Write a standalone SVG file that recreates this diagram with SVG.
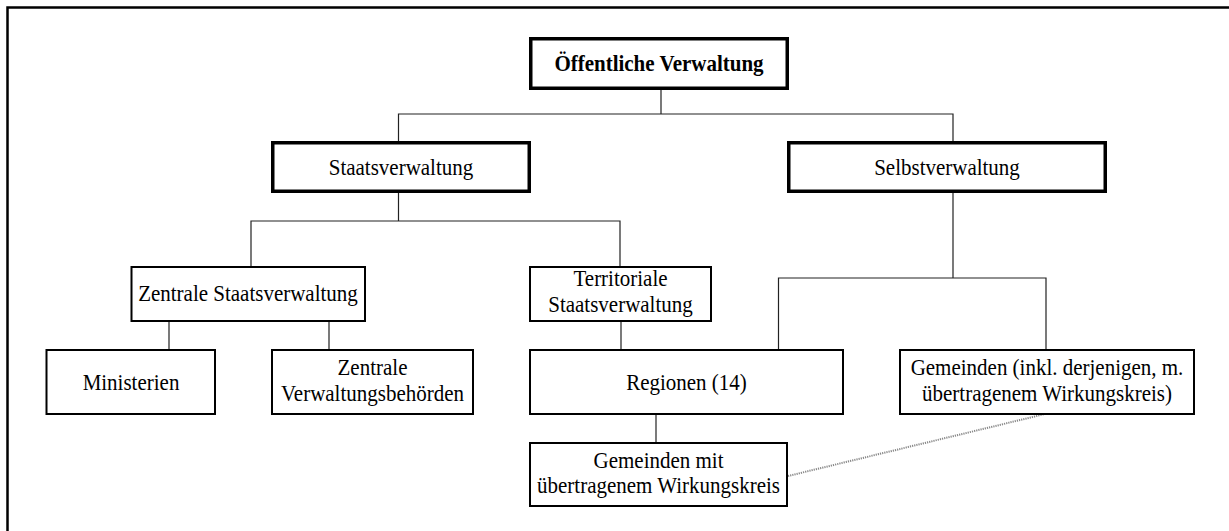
<svg xmlns="http://www.w3.org/2000/svg" width="1229" height="531" viewBox="0 0 1229 531">
<style>
text{font-family:"Liberation Serif","Times New Roman",serif;font-size:24px;fill:#000;text-anchor:middle}
.b{font-weight:bold}
.thick{fill:#fff;stroke:#000;stroke-width:3.5}
.thin{fill:#fff;stroke:#000;stroke-width:2}
.conn{fill:none;stroke:#222;stroke-width:1.2}
.dot{fill:none;stroke:#888;stroke-width:2;stroke-dasharray:1.2 1}
</style>
<rect x="0" y="0" width="1229" height="531" fill="#fff"/>
<rect id="frame" x="7.5" y="7.5" width="1240" height="600" fill="none" stroke="#000" stroke-width="2.5"/>
<g id="connectors">
<path class="conn" d="M661 90V114M398.5 141V114H953V141"/>
<path class="conn" d="M398.5 193V221M251 266V221H620V266"/>
<path class="conn" d="M953 193V278M778.5 349V278H1046V349"/>
<path class="conn" d="M169 322V349M329 322V349"/>
<path class="conn" d="M621 322V349"/>
<path class="conn" d="M656 415V442"/>
<path class="dot" d="M788 476L1045 414"/>
</g>
<g id="n-oeffentlich"><rect class="thick" x="530.75" y="38.75" width="256.5" height="49.5"/><text class="b" transform="translate(659 71) scale(0.875 1)">Öffentliche Verwaltung</text></g>
<g id="n-staat"><rect class="thick" x="272.75" y="142.75" width="256.5" height="48.5"/><text transform="translate(401 175) scale(0.875 1)">Staatsverwaltung</text></g>
<g id="n-selbst"><rect class="thick" x="788.75" y="142.75" width="316.5" height="48.5"/><text transform="translate(947 175) scale(0.875 1)">Selbstverwaltung</text></g>
<g id="n-zentral"><rect class="thin" x="131.5" y="267" width="233.5" height="54"/><text transform="translate(248 301) scale(0.875 1)">Zentrale Staatsverwaltung</text></g>
<g id="n-territorial"><rect class="thin" x="530" y="267" width="181" height="54"/><text transform="translate(620.5 286) scale(0.875 1)">Territoriale</text><text transform="translate(620.5 312) scale(0.875 1)">Staatsverwaltung</text></g>
<g id="n-ministerien"><rect class="thin" x="46.5" y="350" width="168.5" height="64"/><text transform="translate(131 389.5) scale(0.875 1)">Ministerien</text></g>
<g id="n-zvb"><rect class="thin" x="272" y="350" width="201" height="64"/><text transform="translate(372.5 375) scale(0.875 1)">Zentrale</text><text transform="translate(372.5 401) scale(0.875 1)">Verwaltungsbehörden</text></g>
<g id="n-regionen"><rect class="thin" x="530" y="350" width="313" height="64"/><text transform="translate(686.5 389.5) scale(0.875 1)">Regionen (14)</text></g>
<g id="n-gemeinden"><rect class="thin" x="900" y="350" width="294" height="64"/><text transform="translate(1047 375) scale(0.875 1)">Gemeinden (inkl. derjenigen, m.</text><text transform="translate(1047 401) scale(0.875 1)">übertragenem Wirkungskreis)</text></g>
<g id="n-gemeinden-mit"><rect class="thin" x="530" y="443" width="257" height="63"/><text transform="translate(658.5 468) scale(0.875 1)">Gemeinden mit</text><text transform="translate(658.5 493) scale(0.875 1)">übertragenem Wirkungskreis</text></g>
</svg>
